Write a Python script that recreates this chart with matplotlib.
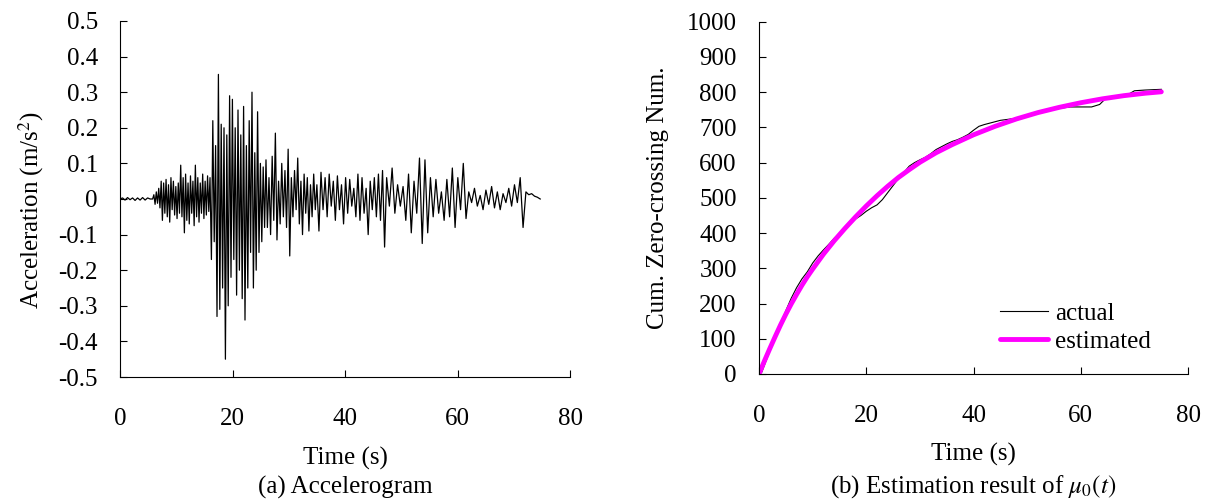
import numpy as np
import matplotlib.pyplot as plt
from matplotlib.ticker import FuncFormatter

plt.rcParams['font.family'] = ['Liberation Serif', 'DejaVu Serif']
plt.rcParams['mathtext.fontset'] = 'stix'
plt.rcParams['axes.unicode_minus'] = False
plt.rcParams['font.size'] = 18

# accelerogram: peak values, piece by piece (start, end, values)
acc_a = [0, 0.003, -0.003, 0.004, -0.002, 0.003, -0.004, 0.003, -0.003, 0.004, -0.003, 0.003, 0.0]
acc_b = [0.0, 0.012, -0.015, 0.02, -0.012, 0.03, -0.025, 0.05, -0.06, 0.045, -0.04, 0.055, -0.05,
         0.04, -0.065, 0.06, -0.03, 0.05, -0.045, 0.035, -0.055, 0.045, -0.04, 0.095, -0.05, 0.06,
         -0.095, 0.07, -0.06, 0.045, -0.07, 0.065, -0.04, 0.05, -0.075, 0.095, -0.05, 0.06, -0.065,
         0.045, -0.04, 0.07, -0.055, 0.05, -0.045, 0.065, -0.035]
acc_c = [0.06, -0.17, 0.22, -0.12, 0.15, -0.33, 0.35, -0.31, 0.21, -0.25, 0.2, -0.45, 0.18, -0.3,
         0.29, -0.22, 0.28, -0.17, 0.2, -0.27, 0.25, -0.2, 0.18, -0.28, 0.26, -0.34, 0.15, -0.25,
         0.22, -0.15, 0.3, -0.25, 0.13, -0.2, 0.245, -0.15, 0.1, -0.12, 0.09, -0.08, 0.11]
acc_d = [-0.08, 0.06, -0.1, 0.12, -0.06, 0.185, -0.115, 0.05, -0.07, 0.1, -0.05, 0.08, -0.08, 0.14,
         -0.16, 0.06, -0.05, 0.08, -0.03, 0.115, -0.07, 0.05, -0.1, 0.07, -0.04, 0.06, -0.09, 0.04,
         -0.05, 0.07, -0.03]
acc_e1 = [0.04, -0.09, 0.075, -0.03, 0.06, -0.05, 0.07, -0.02, 0.05, -0.06, 0.065, -0.03, 0.04,
          -0.07, 0.06, -0.04, 0.055, -0.02, 0.03, -0.05, 0.07, -0.06, 0.06, -0.04, 0.03, -0.1, 0.05,
          -0.03, 0.06, -0.05, 0.07, -0.06, 0.08, -0.135]
acc_e2 = [0.06, -0.02, 0.087, -0.04, 0.04, -0.02, 0.035, -0.06, 0.07, -0.095, 0.05, -0.04, 0.115,
          -0.125, 0.11, -0.095, 0.06, -0.05, 0.055, -0.04, 0.02, -0.06, 0.055, -0.05, 0.087, -0.08,
          0.06, -0.03, 0.1, -0.055]
acc_f = [0.02, -0.01, 0.03, -0.02, 0.01, -0.03, 0.025, -0.015, 0.035, -0.025, 0.02, -0.03, 0.015,
         -0.01, 0.03, -0.02, 0.04, -0.01, 0.06, -0.08, 0.02, 0.012, 0.015, 0.008, 0.005, 0.0]
pieces = [(0.0, 5.8, acc_a), (5.8, 16.0, acc_b), (16.0, 26.2, acc_c), (26.2, 35.0, acc_d),
          (35.0, 47.4, acc_e1), (47.4, 62.0, acc_e2), (62.0, 74.7, acc_f)]

# cumulative zero-crossing number
t_actual = [0, 0.5, 1, 1.5, 2, 3, 4, 5, 6, 7, 8, 9, 10, 11, 12, 13, 14, 15, 16, 17, 18, 19, 20, 21,
            22, 23, 24, 25, 26, 27, 28, 29, 30, 31, 32, 33, 34, 35, 36, 37, 38, 39, 40, 41, 42, 43,
            44, 45, 46, 48, 50, 52, 54, 56, 58, 60, 62, 63.5, 64.5, 65.5, 67, 69, 70, 72, 75]
n_actual = [0, 5, 25, 45, 65, 100, 140, 180, 215, 245, 270, 290, 315, 335, 352, 368, 385, 400, 415,
            425, 440, 450, 462, 472, 480, 495, 515, 535, 555, 572, 590, 600, 608, 615, 625, 637, 645,
            653, 660, 665, 672, 680, 692, 703, 708, 712, 716, 720, 722, 726, 733, 740, 748, 754, 758,
            758, 758, 765, 780, 787, 790, 795, 804, 806, 808]
t_est = [0, 1, 2, 3, 4, 5, 6, 7, 8, 9, 10, 12, 14, 16, 18, 20, 22, 24, 26, 28, 30, 33, 36, 40, 44,
         48, 52, 56, 60, 64, 68, 72, 75]
n_est = [0, 37, 72, 106, 139, 170, 199, 226, 252, 276, 298, 340, 378, 413, 446, 477, 506, 533, 558,
         580, 601, 628, 651, 679, 703, 724, 742, 757, 770, 781, 790, 797, 801]

t_acc, a_acc = [], []
for i, (t0, t1, vals) in enumerate(pieces):
    last = i == len(pieces) - 1
    t_acc += list(np.linspace(t0, t1, len(vals), endpoint=last))
    a_acc += vals

fig = plt.figure(figsize=(12.11, 5.01), dpi=100)
ax1 = fig.add_axes([0.0991, 0.2475, 0.3716, 0.7106])
ax2 = fig.add_axes([0.6268, 0.2535, 0.3543, 0.7032])

ax1.plot(t_acc, a_acc, color='black', lw=0.9)
ax1.set_xlim(0, 80)
ax1.set_ylim(-0.5, 0.5)
ax1.set_xticks(np.arange(0, 81, 20))
ax1.set_yticks(np.arange(-0.5, 0.51, 0.1))
ax1.yaxis.set_major_formatter(FuncFormatter(lambda v, p: '0' if abs(v) < 1e-9 else f'{v:.1f}'))
ax1.set_ylabel('Acceleration (m/s$^2$)')
ax1.yaxis.set_label_coords(-0.165, 0.47)

ax2.plot(t_actual, n_actual, color='black', lw=0.8, label='actual')
ax2.plot(t_est, n_est, color='#ff00ff', lw=3.5, label='estimated', solid_capstyle='round')
ax2.set_xlim(0, 80)
ax2.set_ylim(0, 1000)
ax2.set_xticks(np.arange(0, 81, 20))
ax2.set_yticks(np.arange(0, 1001, 100))
ax2.set_ylabel('Cum. Zero-crossing Num.')
ax2.yaxis.set_label_coords(-0.21, 0.5)
ax2.legend(loc='upper left', bbox_to_anchor=(0.826, 0.397), bbox_transform=fig.transFigure,
           frameon=False, borderpad=0, borderaxespad=0, labelspacing=0.22,
           handlelength=1.9, handletextpad=0.3)

for ax in (ax1, ax2):
    ax.spines['top'].set_visible(False)
    ax.spines['right'].set_visible(False)
    ax.tick_params(direction='in', length=5, width=0.8)
    ax.tick_params(axis='x', pad=22)
    ax.tick_params(axis='y', pad=16)
    ax.set_xlabel('Time (s)')
    ax.xaxis.set_label_coords(0.5, -0.197)

fig.text(345 / 1211, 1 - 487 / 501, '(a) Accelerogram', ha='center', va='center')
fig.text(973 / 1211, 1 - 487 / 501, '(b) Estimation result of $\\mu_{0}(t)$', ha='center', va='center')

fig.savefig('out.png', dpi=100)
